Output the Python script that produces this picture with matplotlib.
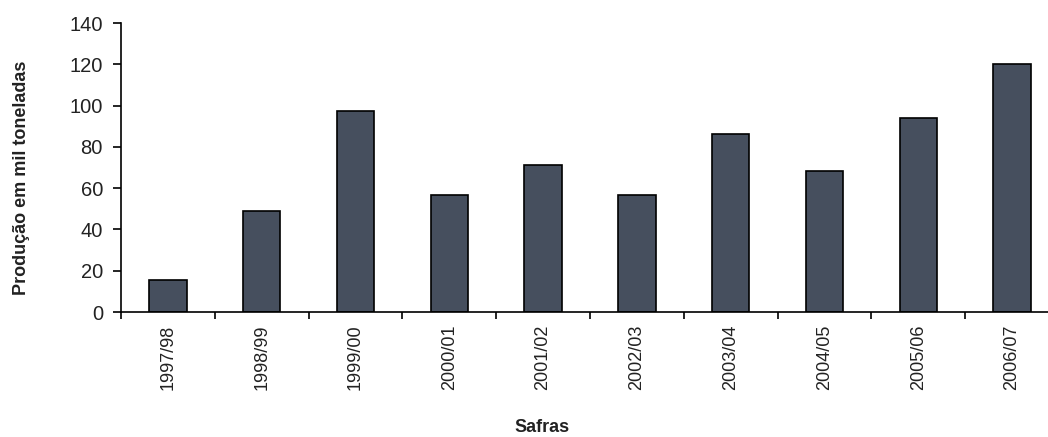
import matplotlib
matplotlib.use('Agg')
from matplotlib import pyplot as plt
import numpy as np

plt.rcParams['font.family'] = ['Liberation Sans', 'DejaVu Sans']

safras = ['1997/98', '1998/99', '1999/00', '2000/01', '2001/02',
          '2002/03', '2003/04', '2004/05', '2005/06', '2006/07']
producao = [15.5, 49, 97.5, 56.5, 71, 56.5, 86, 68.5, 94, 120]
yticks = [0, 20, 40, 60, 80, 100, 120, 140]

fig = plt.figure(figsize=(10.48, 4.37), dpi=100)
# axis runs a bit past the right edge in the original
ax = fig.add_axes([121/1048, 125/437, 938/1048, 289/437])

x = np.arange(len(safras))
ax.bar(x, producao, width=0.4, color='#464f5e', edgecolor='black', linewidth=1.2)

ax.set_xlim(-0.5, len(safras) - 0.5)
ax.set_ylim(0, 140)
ax.set_yticks(yticks)
ax.set_xticks(x)
ax.set_xticklabels(safras, rotation=90, fontsize=13, color='#222222')
ax.set_xticks(np.arange(len(safras) + 1) - 0.5, minor=True)
ax.tick_params(axis='x', which='major', length=0, pad=9)
ax.tick_params(axis='x', which='minor', length=5, width=1.2, direction='out')
ax.tick_params(axis='y', length=6, width=1.2, pad=7, labelsize=14.5, labelcolor='#222222')

for s in ['top', 'right']:
    ax.spines[s].set_visible(False)
for s in ['left', 'bottom']:
    ax.spines[s].set_linewidth(1.2)

fig.text(22/1048, 1 - 178/437, 'Produção em mil toneladas', rotation=90,
         ha='center', va='center', fontsize=13, fontweight='bold', color='#222222')
fig.text(542/1048, 1 - 428/437, 'Safras', ha='center', va='center',
         fontsize=13, fontweight='bold', color='#222222')

fig.savefig('out.png', dpi=100)
